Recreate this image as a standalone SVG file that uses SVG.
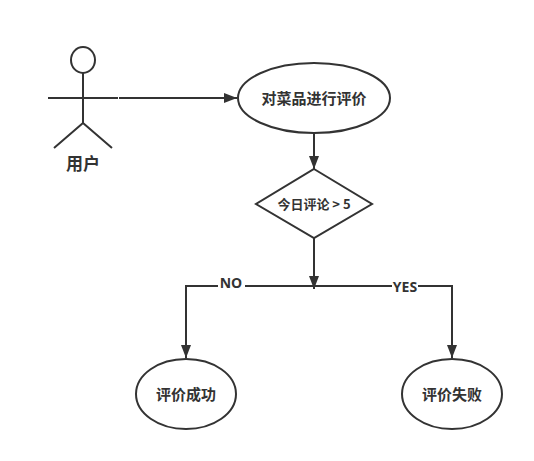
<svg xmlns="http://www.w3.org/2000/svg" width="534" height="461" viewBox="0 0 534 461">
<style>
.s{fill:#fff;stroke:#333;stroke-width:2}
.c{fill:none;stroke:#333;stroke-width:2}
.t{font-family:"Noto Sans CJK SC","Noto Sans",sans-serif;font-size:15px;font-weight:700;fill:#333;text-anchor:middle}
.l{font-family:"Open Sans","Noto Sans",sans-serif;font-size:14px;font-weight:700;fill:#333;text-anchor:middle}
</style>
<defs><marker id="a" markerWidth="14" markerHeight="12" refX="13" refY="6" orient="auto" markerUnits="userSpaceOnUse"><path d="M0 1L13 6L0 11Z" fill="#333"/></marker></defs>
<rect width="534" height="461" fill="#fff"/>
<g id="connectors">
<path class="c" d="M119 98H237" marker-end="url(#a)"/>
<path class="c" d="M314 133V169" marker-end="url(#a)"/>
<path class="c" d="M314 238V289" marker-end="url(#a)"/>
<path class="c" d="M314 286H186V358" marker-end="url(#a)"/>
<path class="c" d="M314 286H452V358" marker-end="url(#a)"/>
</g>
<g id="user"><ellipse class="s" cx="83" cy="60" rx="12" ry="13"/><path class="c" d="M83 73V123M48 98H118M83 123L54 148M83 123L112 148"/><text class="t" x="83" y="170" style="font-size:17px">用户</text></g>
<g id="evaluate"><ellipse class="s" cx="314" cy="98" rx="76" ry="35"/><text class="t" x="314" y="104">对菜品进行评价</text></g>
<g id="decision"><polygon class="s" points="314,169 372,204 314,238 256,204"/><text class="t" x="314" y="209" style="font-size:13px">今日评论 &gt; 5</text></g>
<g id="no"><rect x="218" y="276" width="27" height="16" fill="#fff"/><text class="l" x="231" y="288">NO</text></g>
<g id="yes"><rect x="392" y="278" width="26" height="16" fill="#fff"/><text class="l" x="405" y="292">YES</text></g>
<g id="success"><ellipse class="s" cx="186" cy="394" rx="50" ry="35"/><text class="t" x="186" y="400">评价成功</text></g>
<g id="fail"><ellipse class="s" cx="452" cy="394" rx="50" ry="35"/><text class="t" x="452" y="400">评价失败</text></g>
</svg>
